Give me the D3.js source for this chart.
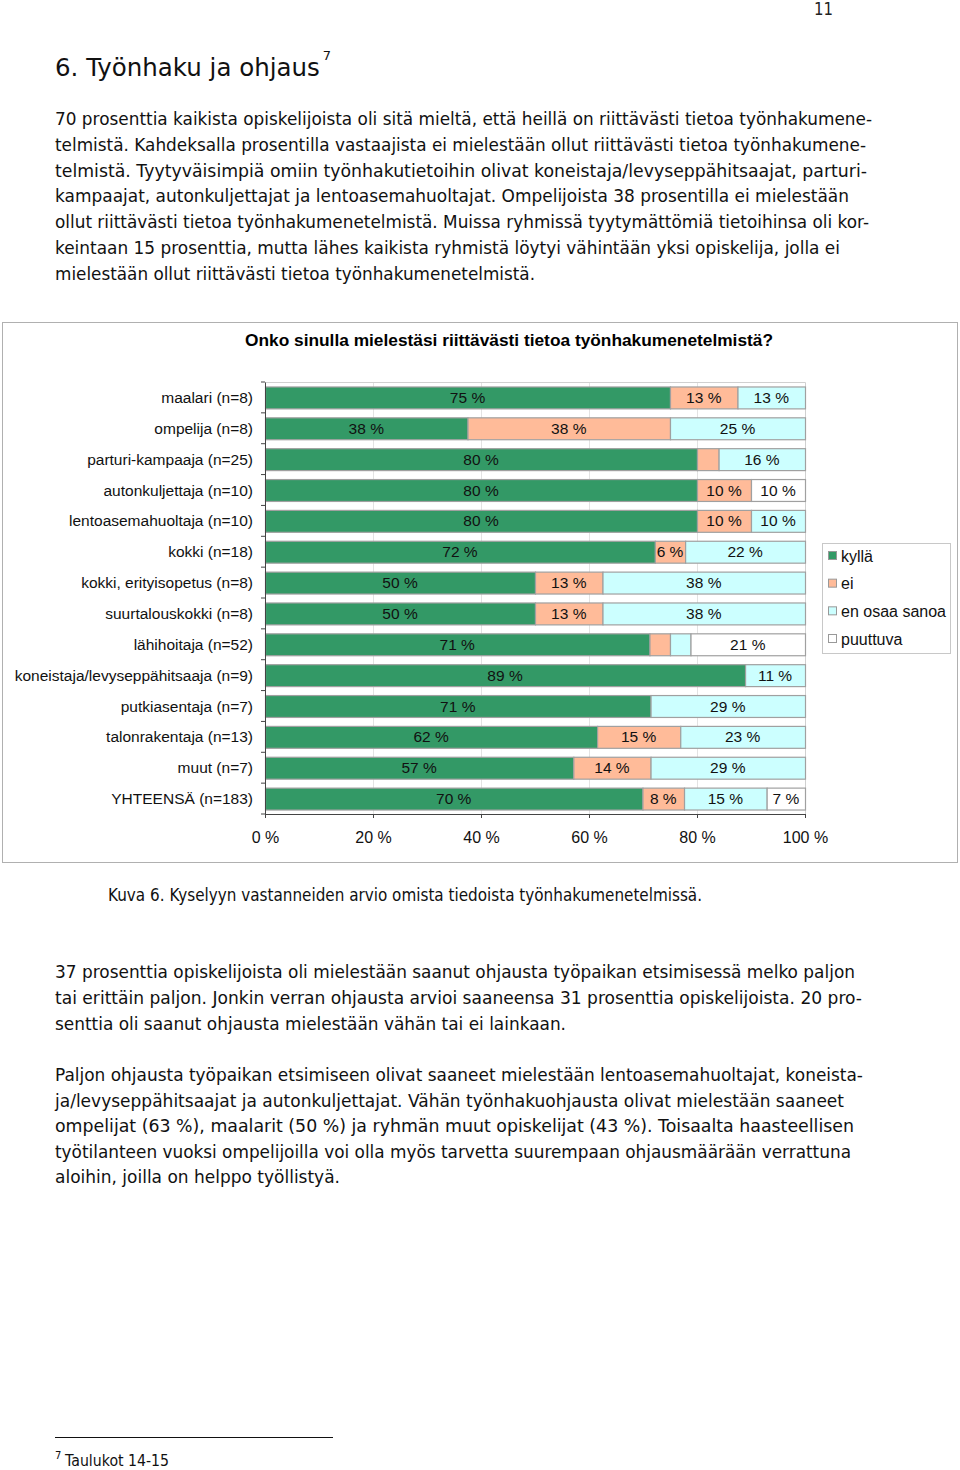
<!DOCTYPE html>
<html>
<head>
<meta charset="utf-8">
<script src="https://cdn.jsdelivr.net/npm/d3@7"></script>
<style>
html,body{margin:0;padding:0;background:#fff;}
svg{display:block;}
</style>
</head>
<body>
<svg id="page" width="960" height="1470"></svg>
<script>
// ---------- data ----------
const categories = [
  "maalari (n=8)", "ompelija (n=8)", "parturi-kampaaja (n=25)", "autonkuljettaja (n=10)",
  "lentoasemahuoltaja (n=10)", "kokki (n=18)", "kokki, erityisopetus (n=8)", "suurtalouskokki (n=8)",
  "lähihoitaja (n=52)", "koneistaja/levyseppähitsaaja (n=9)", "putkiasentaja (n=7)",
  "talonrakentaja (n=13)", "muut (n=7)", "YHTEENSÄ (n=183)"
];
const seriesNames = ["kyllä", "ei", "en osaa sanoa", "puuttuva"];
const kylla     = [75, 37.5, 80, 80, 80, 72.2, 50, 50, 71.2, 88.9, 71.4, 61.5, 57.1, 69.9];
const ei        = [12.5, 37.5, 4, 10, 10, 5.6, 12.5, 12.5, 3.8, 0, 0, 15.4, 14.3, 7.7];
const enOsaa    = [12.5, 25, 16, 0, 10, 22.2, 37.5, 37.5, 3.8, 11.1, 28.6, 23.1, 28.6, 15.3];
const puuttuva  = [0, 0, 0, 10, 0, 0, 0, 0, 21.2, 0, 0, 0, 0, 7.1];
const xTicks = [0, 20, 40, 60, 80, 100];
const seriesColors = ["#339966", "#FFBB99", "#CCFFFF", "#FFFFFF"];

const chartTitle = "Onko sinulla mielestäsi riittävästi tietoa työnhakumenetelmistä?";
const heading = "6. Työnhaku ja ohjaus";
const para1 = [
  "70 prosenttia kaikista opiskelijoista oli sitä mieltä, että heillä on riittävästi tietoa työnhakumene-",
  "telmistä. Kahdeksalla prosentilla vastaajista ei mielestään ollut riittävästi tietoa työnhakumene-",
  "telmistä. Tyytyväisimpiä omiin työnhakutietoihin olivat koneistaja/levyseppähitsaajat, parturi-",
  "kampaajat, autonkuljettajat ja lentoasemahuoltajat. Ompelijoista 38 prosentilla ei mielestään",
  "ollut riittävästi tietoa työnhakumenetelmistä. Muissa ryhmissä tyytymättömiä tietoihinsa oli kor-",
  "keintaan 15 prosenttia, mutta lähes kaikista ryhmistä löytyi vähintään yksi opiskelija, jolla ei",
  "mielestään ollut riittävästi tietoa työnhakumenetelmistä."
];
const para1Ends = [872, 866, 867, 849, 869, 840, 535];
const caption = "Kuva 6. Kyselyyn vastanneiden arvio omista tiedoista työnhakumenetelmissä.";
const para2 = [
  "37 prosenttia opiskelijoista oli mielestään saanut ohjausta työpaikan etsimisessä melko paljon",
  "tai erittäin paljon. Jonkin verran ohjausta arvioi saaneensa 31 prosenttia opiskelijoista. 20 pro-",
  "senttia oli saanut ohjausta mielestään vähän tai ei lainkaan."
];
const para2Ends = [855, 862, 566];
const para3 = [
  "Paljon ohjausta työpaikan etsimiseen olivat saaneet mielestään lentoasemahuoltajat, koneista-",
  "ja/levyseppähitsaajat ja autonkuljettajat. Vähän työnhakuohjausta olivat mielestään saaneet",
  "ompelijat (63 %), maalarit (50 %) ja ryhmän muut opiskelijat (43 %). Toisaalta haasteellisen",
  "työtilanteen vuoksi ompelijoilla voi olla myös tarvetta suurempaan ohjausmäärään verrattuna",
  "aloihin, joilla on helppo työllistyä."
];
const para3Ends = [863, 844, 854, 851, 340];

// ---------- page text ----------
const svg = d3.select("#page");
const bodyFont = "'DejaVu Sans', Verdana, sans-serif";
const chartFont = "'Liberation Sans', Arial, sans-serif";

svg.append("text").attr("x", 833).attr("y", 15).attr("text-anchor", "end")
  .attr("font-family", bodyFont).attr("font-size", 17).attr("fill", "#222")
  .attr("textLength", 19).attr("lengthAdjust", "spacingAndGlyphs").text("11");

const ht = svg.append("text").attr("x", 55).attr("y", 76)
  .attr("font-family", bodyFont).attr("font-size", 24.5).attr("fill", "#111")
  .text(heading);
const hw = ht.node().getComputedTextLength();
svg.append("text").attr("x", 55 + hw + 3).attr("y", 60).attr("font-family", bodyFont)
  .attr("font-size", 13).attr("fill", "#111").text("7");

function para(lines, ends, y0, lh) {
  lines.forEach((t, i) => {
    svg.append("text").attr("x", 55).attr("y", y0 + i * lh)
      .attr("font-family", bodyFont).attr("font-size", 18).attr("fill", "#111")
      .attr("textLength", ends[i] - 55).attr("lengthAdjust", "spacingAndGlyphs")
      .text(t);
  });
}
para(para1, para1Ends, 125, 25.8);
para(para2, para2Ends, 978, 25.9);
para(para3, para3Ends, 1081, 25.6);

svg.append("text").attr("x", 108).attr("y", 901).attr("font-family", bodyFont)
  .attr("font-size", 18).attr("fill", "#111")
  .attr("textLength", 594).attr("lengthAdjust", "spacingAndGlyphs").text(caption);

// footnote
svg.append("line").attr("x1", 55).attr("x2", 333).attr("y1", 1437.5).attr("y2", 1437.5)
  .attr("stroke", "#111").attr("stroke-width", 1.2);
svg.append("text").attr("x", 55).attr("y", 1459).attr("font-family", bodyFont)
  .attr("font-size", 10).attr("fill", "#111").text("7");
svg.append("text").attr("x", 65).attr("y", 1466).attr("font-family", bodyFont)
  .attr("font-size", 16).attr("fill", "#111")
  .attr("textLength", 104).attr("lengthAdjust", "spacingAndGlyphs").text("Taulukot 14-15");

// ---------- chart ----------
svg.append("rect").attr("x", 2.5).attr("y", 322.5).attr("width", 955).attr("height", 540)
  .attr("fill", "#fff").attr("stroke", "#b0b0b0").attr("stroke-width", 1);

svg.append("text").attr("x", 509).attr("y", 346).attr("text-anchor", "middle")
  .attr("font-family", chartFont).attr("font-size", 17).attr("font-weight", "bold")
  .attr("fill", "#000").attr("textLength", 528).attr("lengthAdjust", "spacingAndGlyphs")
  .text(chartTitle);

const x = d3.scaleLinear().domain([0, 100]).range([265, 805]);
const y = d3.scaleBand().domain(categories).range([382, 814]).paddingInner(0.29).paddingOuter(0.145);

const g = svg.append("g");

// gridlines
g.selectAll("line.grid").data(xTicks.slice(1, -1)).join("line")
  .attr("class", "grid")
  .attr("x1", d => x(d) + 0.5).attr("x2", d => x(d) + 0.5)
  .attr("y1", 382).attr("y2", 814).attr("stroke", "#e3e3e3").attr("stroke-width", 1);
// plot-area outline (top & right)
g.append("path").attr("d", `M${x(0)},382.5H${x(100) + 0.5}V814`)
  .attr("fill", "none").attr("stroke", "#d0d0d0");

const series = [kylla, ei, enOsaa, puuttuva];
const rows = categories.map((c, i) => {
  let acc = 0;
  return series.map((s, k) => {
    const seg = { cat: c, k, v: s[i], x0: acc, x1: acc + s[i] };
    acc += s[i];
    return seg;
  });
}).flat().filter(d => d.v > 0);

g.selectAll("rect.bar").data(rows).join("rect")
  .attr("class", "bar")
  .attr("x", d => x(d.x0) + 0.5)
  .attr("y", d => y(d.cat) + 0.5)
  .attr("width", d => x(d.x1) - x(d.x0))
  .attr("height", y.bandwidth())
  .attr("fill", d => seriesColors[d.k])
  .attr("stroke", "#a0a0a0").attr("stroke-width", 1.2);

g.selectAll("text.lbl").data(rows.filter(d => d.v >= 5)).join("text")
  .attr("class", "lbl")
  .attr("x", d => (x(d.x0) + x(d.x1)) / 2)
  .attr("y", d => y(d.cat) + y.bandwidth() / 2 + 5.5)
  .attr("text-anchor", "middle")
  .attr("font-family", chartFont).attr("font-size", 15.5).attr("fill", "#111")
  .text(d => Math.round(d.v) + " %");

// axes
const yAxis = d3.axisLeft(y).tickSize(0).tickPadding(12);
const ya = svg.append("g").attr("transform", `translate(${x(0)},0)`).call(yAxis);
ya.select(".domain").attr("stroke", "#444");
ya.selectAll("text").attr("font-family", chartFont).attr("font-size", 15.5).attr("fill", "#111")
  .attr("dy", "0.36em");
// category boundary ticks
const bounds = categories.map(c => y(c) - y.step() * y.paddingInner() / 2).concat([814]);
svg.selectAll("line.ctick").data(bounds).join("line").attr("class", "ctick")
  .attr("x1", x(0) - 4).attr("x2", x(0)).attr("y1", d => d).attr("y2", d => d)
  .attr("stroke", "#444");

const xAxis = d3.axisBottom(x).tickValues(xTicks).tickFormat(d => d + " %").tickSize(4).tickPadding(14);
const xa = svg.append("g").attr("transform", "translate(0,814)").call(xAxis);
xa.select(".domain").attr("stroke", "#444");
xa.selectAll(".tick line").attr("stroke", "#444");
xa.selectAll("text").attr("font-family", chartFont).attr("font-size", 16).attr("fill", "#111");

// legend
const lg = svg.append("g");
lg.append("rect").attr("x", 822.5).attr("y", 543.5).attr("width", 128).attr("height", 110)
  .attr("fill", "#fff").attr("stroke", "#c8c8c8");
const ly = d3.scalePoint().domain(seriesNames).range([556, 639]);
lg.selectAll("rect.sw").data(seriesNames).join("rect").attr("class", "sw")
  .attr("x", 828.5).attr("y", d => ly(d) - 4.5).attr("width", 8).attr("height", 8)
  .attr("fill", (d, i) => seriesColors[i]).attr("stroke", "#999");
lg.selectAll("text").data(seriesNames).join("text")
  .attr("x", 841).attr("y", d => ly(d) + 5.5)
  .attr("font-family", chartFont).attr("font-size", 16).attr("fill", "#111")
  .text(d => d);
</script>
</body>
</html>
